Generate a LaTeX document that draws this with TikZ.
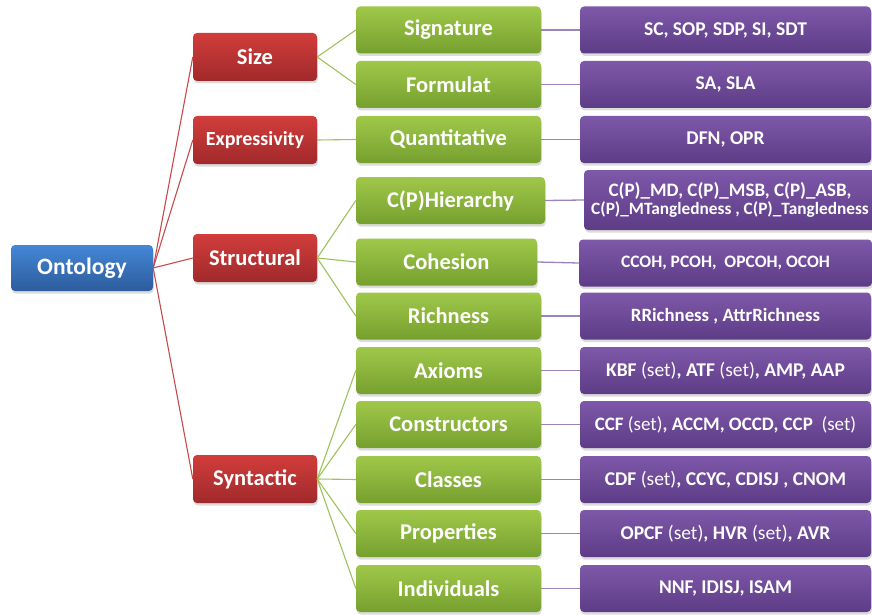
\documentclass[tikz,border=0pt]{standalone}
\usepackage{fontspec}
\setmainfont{Carlito}
\usetikzlibrary{shadows}
\definecolor{blueTop}{HTML}{4387D6}
\definecolor{blueBot}{HTML}{2C5C9C}
\definecolor{redTop}{HTML}{D13D3B}
\definecolor{redBot}{HTML}{A1292B}
\definecolor{greenTop}{HTML}{9FC84A}
\definecolor{greenBot}{HTML}{76A02E}
\definecolor{purpTop}{HTML}{7E58A9}
\definecolor{purpBot}{HTML}{5D3C86}
\definecolor{redLine}{HTML}{C9494A}
\definecolor{greenLine}{HTML}{9CC259}
\definecolor{purpLine}{HTML}{9B83BE}
\tikzset{
  box/.style={rounded corners=4pt, text=white, font=\bfseries, inner sep=0pt,
    align=center, drop shadow={shadow xshift=0.8pt, shadow yshift=-2.5pt, opacity=0.28}},
  rootbox/.style={box, top color=blueTop, bottom color=blueBot,
    minimum width=142pt, minimum height=46pt, font=\bfseries\fontsize{23.5}{27}\selectfont},
  catbox/.style={box, top color=redTop, bottom color=redBot,
    minimum width=124pt, minimum height=48pt, font=\bfseries\fontsize{22.5}{26}\selectfont},
  subbox/.style={box, top color=greenTop, bottom color=greenBot,
    minimum width=185pt, minimum height=47pt, font=\bfseries\fontsize{22.5}{26}\selectfont},
  metbox/.style={box, top color=purpTop, bottom color=purpBot,
    minimum width=291pt, minimum height=47pt, font=\bfseries\fontsize{19.5}{23}\selectfont},
  redlink/.style={draw=redLine, line width=1.1pt},
  greenlink/.style={draw=greenLine, line width=1.1pt},
  purplink/.style={draw=purpLine, line width=1.3pt},
}
\newcommand{\setw}{\textmd{(set)}}
\begin{document}
\begin{tikzpicture}[x=1pt, y=-1pt]
\useasboundingbox (0,0) rectangle (872,615);

% root
\node[rootbox] (onto) at (82,268) {Ontology};

% categories
\node[catbox] (size) at (255,57) {Size};
\node[catbox, font=\bfseries\fontsize{20}{23}\selectfont] (expr) at (255,140) {Expressivity};
\node[catbox] (struc) at (255,258) {Structural};
\node[catbox] (synt) at (255,479) {Syntactic};

% sub-characteristics
\node[subbox] (sig)  at (448.5,30)  {Signature};
\node[subbox] (form) at (448.5,84.5) {Formulat};
\node[subbox] (quan) at (448.5,139.5) {Quantitative};
\node[subbox, minimum width=189pt] (hier) at (450.5,200.5) {C(P)Hierarchy};
\node[subbox, minimum width=181pt] (coh)  at (446.5,262) {Cohesion};
\node[subbox] (rich) at (448.5,316) {Richness};
\node[subbox] (axi)  at (448.5,370.5) {Axioms};
\node[subbox] (cons) at (448.5,424.5) {Constructors};
\node[subbox] (cla)  at (448.5,479.5) {Classes};
\node[subbox] (prop) at (448.5,533.5) {Properties};
\node[subbox] (ind)  at (448.5,588.5) {Individuals};

% metrics
\node[metbox] (msig)  at (725.5,30)  {SC, SOP, SDP, SI, SDT};
\node[metbox] (mform) at (725.5,84.5) {SA, SLA};
\node[metbox] (mquan) at (725.5,139.5) {DFN, OPR};
\node[metbox, minimum width=292pt, minimum height=60pt, font=\bfseries\fontsize{19}{20}\selectfont] (mhier) at (730,200)
  {C(P)\_MD, C(P)\_MSB, C(P)\_ASB,\\[-2pt]{\fontsize{17.3}{18}\selectfont C(P)\_MTangledness , C(P)\_Tangledness}};
\node[metbox, minimum width=293pt, font=\bfseries\fontsize{17.5}{20}\selectfont] (mcoh) at (725.5,263) {CCOH, PCOH,~ OPCOH, OCOH};
\node[metbox, font=\bfseries\fontsize{18.8}{22}\selectfont] (mrich) at (725.5,316) {RRichness , AttrRichness};
\node[metbox] (maxi)  at (725.5,370.5) {KBF \setw, ATF \setw, AMP, AAP};
\node[metbox, font=\bfseries\fontsize{19}{22}\selectfont] (mcons) at (725.5,424.5) {CCF \setw, ACCM, OCCD, CCP~ \setw};
\node[metbox] (mcla)  at (725.5,479.5) {CDF \setw, CCYC, CDISJ , CNOM};
\node[metbox] (mprop) at (725.5,533.5) {OPCF \setw, HVR \setw, AVR};
\node[metbox] (mind)  at (725.5,588.5) {NNF, IDISJ, ISAM};

% links: root to categories
\foreach \c in {size,expr,struc,synt}
  \draw[redlink] (onto.east) -- (\c.west);

% links: categories to sub-characteristics
\foreach \s in {sig,form} \draw[greenlink] (size.east) -- (\s.west);
\draw[greenlink] (expr.east) -- (quan.west);
\foreach \s in {hier,coh,rich} \draw[greenlink] (struc.east) -- (\s.west);
\foreach \s in {axi,cons,cla,prop,ind} \draw[greenlink] (synt.east) -- (\s.west);

% links: sub-characteristics to metrics
\foreach \a/\b in {sig/msig,form/mform,quan/mquan,hier/mhier,coh/mcoh,rich/mrich,axi/maxi,cons/mcons,cla/mcla,prop/mprop,ind/mind}
  \draw[purplink] (\a.east) -- (\b.west);
\end{tikzpicture}
\end{document}
